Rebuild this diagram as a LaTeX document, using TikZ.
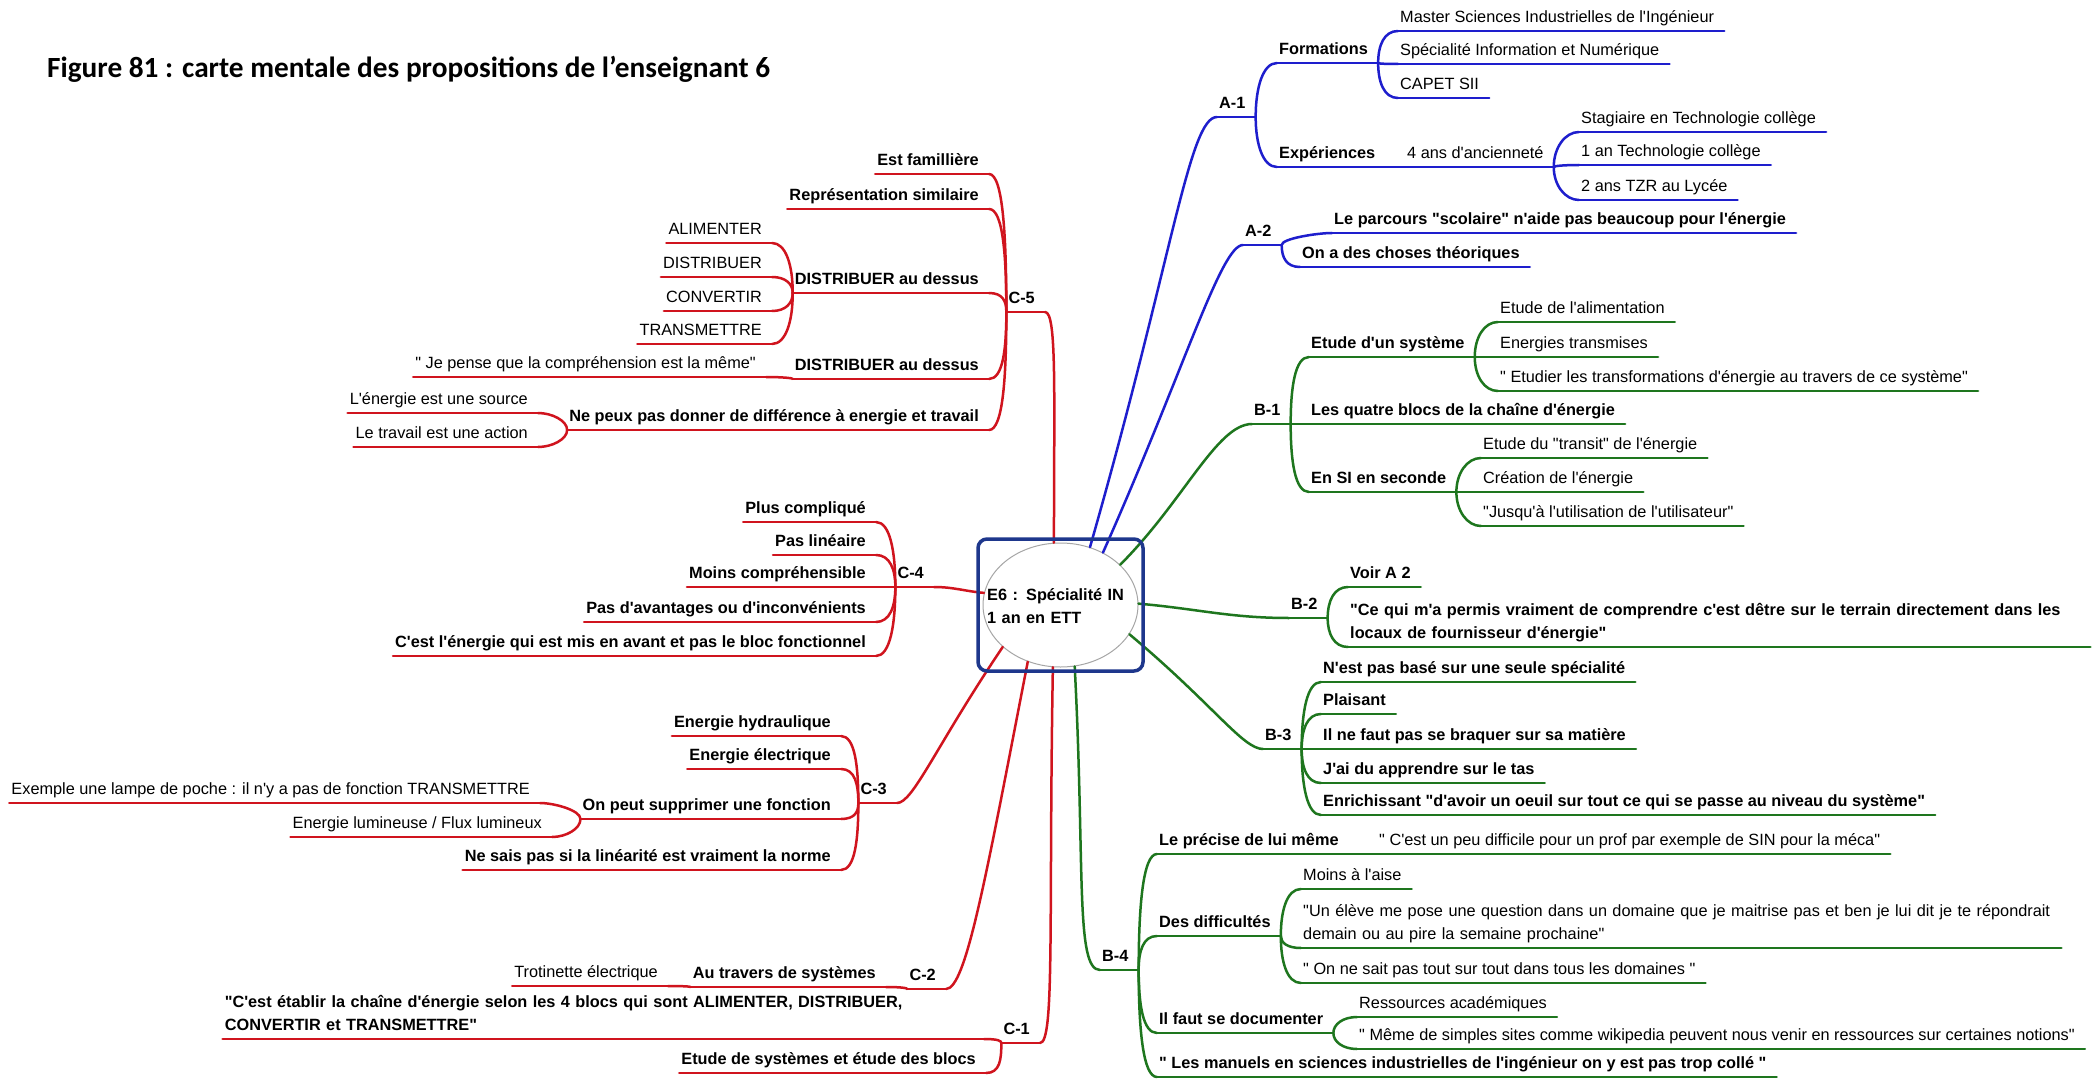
\documentclass[tikz,border=0pt]{standalone}
\usepackage{fontspec}
\setmainfont{Liberation Sans}[Ligatures=TeXOff]
\newfontfamily\titlefont{Carlito}
\usetikzlibrary{shapes.geometric,calc}
\definecolor{brancheA}{RGB}{30,30,205}
\definecolor{brancheB}{RGB}{30,118,30}
\definecolor{brancheC}{RGB}{208,20,30}
\definecolor{cadre}{RGB}{30,55,140}
\newcommand{\carte}{\fontsize{16.3}{23}\selectfont}
\tikzset{
    sujet/.style={
        inner xsep=2pt,
        inner ysep=4.5pt,
        font=\carte,
        execute at end node={\kern8pt\vrule width 0pt depth 3.5pt height 0pt}
    },
    sujetD/.style={sujet, anchor=south west},
    sujetG/.style={sujet, anchor=south east},
    gras/.style={font=\carte\bfseries},
    lien/.style={line width=2.5pt, line cap=round, line join=round},
    lienA/.style={lien, draw=brancheA},
    lienB/.style={lien, draw=brancheB},
    lienC/.style={lien, draw=brancheC},
    forkto/.style={to path={.. controls ($(\tikztostart)!0.55!(\tikztostart|-\tikztotarget)$) and ($(\tikztotarget)+(#1,0)$) .. (\tikztotarget)}},
    forkto/.default=-14
}

\begin{document}
\begin{tikzpicture}[x=1pt, y=1pt]
    \fill[white] (0,0) rectangle (2100,-1083);
    \useasboundingbox (0,0) rectangle (2100,-1083);

    \node[anchor=base west, inner sep=0pt, font={\titlefont\bfseries\fontsize{29.3}{34}\selectfont}] (titre) at (47,-78) {Figure 81 : carte mentale des propositions de l’enseignant 6};

    % centre
    \node[ellipse, draw=gray!70, line width=1pt, fill=white, minimum width=155pt, minimum height=124pt] (e6) at (1060.5,-605) {};
    \node[anchor=base west, inner sep=0pt, text width=150pt, align=left, font=\carte\bfseries] (e6t) at (987,-600) {E6 : Spécialité IN\\1 an en ETT};

    % branche A
    \node[sujetD, gras] (a1) at (1217,-117) {A-1};
    \node[sujetD, gras] (form) at (1277,-63) {Formations};
    \node[sujetD, gras] (exp) at (1277,-167) {Expériences};
    \node[sujetD] (msi) at (1398,-31) {Master Sciences Industrielles de l'Ingénieur};
    \node[sujetD] (sin) at (1398,-64) {Spécialité Information et Numérique};
    \node[sujetD] (capet) at (1398,-98) {CAPET SII};
    \node[sujetD] (anc) at (1405,-167) {4 ans d'ancienneté};
    \node[sujetD] (stag) at (1579,-132) {Stagiaire en Technologie collège};
    \node[sujetD] (tech) at (1579,-165) {1 an Technologie collège};
    \node[sujetD] (tzr) at (1579,-200) {2 ans TZR au Lycée};
    \node[sujetD, gras] (a2) at (1243,-245) {A-2};
    \node[sujetD, gras] (parc) at (1332,-233) {Le parcours "scolaire" n'aide pas beaucoup pour l'énergie};
    \node[sujetD, gras] (theo) at (1300,-267) {On a des choses théoriques};

    % branche B
    \node[sujetD, gras] (b1) at (1252,-424) {B-1};
    \node[sujetD, gras] (sys) at (1309,-357) {Etude d'un système};
    \node[sujetD, gras] (blocs) at (1309,-424) {Les quatre blocs de la chaîne d'énergie};
    \node[sujetD, gras] (sec) at (1309,-492) {En SI en seconde};
    \node[sujetD] (alim) at (1498,-322) {Etude de l'alimentation};
    \node[sujetD] (etr) at (1498,-357) {Energies transmises};
    \node[sujetD] (etud) at (1498,-391) {" Etudier les transformations d'énergie au travers de ce système"};
    \node[sujetD] (trans) at (1481,-458) {Etude du "transit" de l'énergie};
    \node[sujetD] (crea) at (1481,-492) {Création de l'énergie};
    \node[sujetD] (jusq) at (1481,-526) {"Jusqu'à l'utilisation de l'utilisateur"};
    \node[sujetD, gras] (b2) at (1289,-618) {B-2};
    \node[sujetD, gras] (voir) at (1348,-587) {Voir A 2};
    \node[sujetD, gras, text width=738pt, align=left] (terr) at (1348,-647) {"Ce qui m'a permis vraiment de comprendre c'est dêtre sur le terrain directement dans les\\locaux de fournisseur d'énergie"};
    \node[sujetD, gras] (b3) at (1263,-749) {B-3};
    \node[sujetD, gras] (base) at (1321,-682) {N'est pas basé sur une seule spécialité};
    \node[sujetD, gras] (plai) at (1321,-714) {Plaisant};
    \node[sujetD, gras] (braq) at (1321,-749) {Il ne faut pas se braquer sur sa matière};
    \node[sujetD, gras] (tas) at (1321,-783) {J'ai du apprendre sur le tas};
    \node[sujetD, gras] (enri) at (1321,-815) {Enrichissant "d'avoir un oeuil sur tout ce qui se passe au niveau du système"};
    \node[sujetD, gras] (b4) at (1100,-970) {B-4};
    \node[sujetD, gras] (prec) at (1157,-854) {Le précise de lui même};
    \node[sujetD] (meca) at (1377,-854) {" C'est un peu difficile pour un prof par exemple de SIN pour la méca"};
    \node[sujetD, gras] (diff) at (1157,-936) {Des difficultés};
    \node[sujetD] (aise) at (1301,-889) {Moins à l'aise};
    \node[sujetD, text width=756pt, align=left] (eleve) at (1301,-948) {"Un élève me pose une question dans un domaine que je maitrise pas et ben je lui dit je te répondrait\\demain ou au pire la semaine prochaine"};
    \node[sujetD] (sait) at (1301,-983) {" On ne sait pas tout sur tout dans tous les domaines "};
    \node[sujetD, gras] (doc) at (1157,-1033) {Il faut se documenter};
    \node[sujetD] (ress) at (1357,-1017) {Ressources académiques};
    \node[sujetD] (wiki) at (1357,-1049) {" Même de simples sites comme wikipedia peuvent nous venir en ressources sur certaines notions"};
    \node[sujetD, gras] (manu) at (1157,-1077) {" Les manuels en sciences industrielles de l'ingénieur on y est pas trop collé "};

    % branche C
    \node[sujetG, gras] (c5) at (1045,-312) {C-5};
    \node[sujetG, gras] (fam) at (989,-174) {Est famillière};
    \node[sujetG, gras] (rep) at (989,-209) {Représentation similaire};
    \node[sujetG, gras] (dist1) at (989,-293) {DISTRIBUER au dessus};
    \node[sujetG, gras] (dist2) at (989,-379) {DISTRIBUER au dessus};
    \node[sujetG, gras] (diffe) at (989,-430) {Ne peux pas donner de différence à energie et travail};
    \node[sujetG] (alm) at (772,-243) {ALIMENTER};
    \node[sujetG] (dst) at (772,-277) {DISTRIBUER};
    \node[sujetG] (cvt) at (772,-311) {CONVERTIR};
    \node[sujetG] (tsm) at (772,-344) {TRANSMETTRE};
    \node[sujetG] (pense) at (766,-377) {" Je pense que la compréhension est la même"};
    \node[sujetG] (src) at (538,-413) {L'énergie est une source};
    \node[sujetG] (act) at (538,-447) {Le travail est une action};
    \node[sujetG, gras] (c4) at (934,-587) {C-4};
    \node[sujetG, gras] (comp) at (876,-522) {Plus compliqué};
    \node[sujetG, gras] (lin) at (876,-555) {Pas linéaire};
    \node[sujetG, gras] (mcomp) at (876,-587) {Moins compréhensible};
    \node[sujetG, gras] (avan) at (876,-622) {Pas d'avantages ou d'inconvénients};
    \node[sujetG, gras] (bloc) at (876,-656) {C'est l'énergie qui est mis en avant et pas le bloc fonctionnel};
    \node[sujetG, gras] (c3) at (897,-803) {C-3};
    \node[sujetG, gras] (hydr) at (841,-736) {Energie hydraulique};
    \node[sujetG, gras] (elec) at (841,-769) {Energie électrique};
    \node[sujetG, gras] (supp) at (841,-819) {On peut supprimer une fonction};
    \node[sujetG, gras] (norm) at (841,-870) {Ne sais pas si la linéarité est vraiment la norme};
    \node[sujetG] (lamp) at (540,-803) {Exemple une lampe de poche : il n'y a pas de fonction TRANSMETTRE};
    \node[sujetG] (flux) at (552,-837) {Energie lumineuse / Flux lumineux};
    \node[sujetG, gras] (c2) at (946,-989) {C-2};
    \node[sujetG, gras] (trav) at (886,-987) {Au travers de systèmes};
    \node[sujetG] (trot) at (668,-986) {Trotinette électrique};
    \node[sujetG, gras] (c1) at (1040,-1043) {C-1};
    \node[sujetG, gras, text width=757pt, align=left] (chain) at (984,-1039) {"C'est établir la chaîne d'énergie selon les 4 blocs qui sont ALIMENTER, DISTRIBUER,\\CONVERTIR et TRANSMETTRE"};
    \node[sujetG, gras] (etsys) at (986,-1073) {Etude de systèmes et étude des blocs};

    % soulignements
    \foreach \n in {a1,form,exp,msi,sin,capet,anc,stag,tech,tzr,a2,parc,theo}
        \draw[lienA] (\n.south west) -- (\n.south east);
    \foreach \n in {b1,sys,blocs,sec,alim,etr,etud,trans,crea,jusq,b2,voir,terr,b3,base,plai,braq,tas,enri,b4,prec,meca,diff,aise,eleve,sait,doc,ress,wiki,manu}
        \draw[lienB] (\n.south west) -- (\n.south east);
    \foreach \n in {c5,fam,rep,dist1,dist2,diffe,alm,dst,cvt,tsm,pense,src,act,c4,comp,lin,mcomp,avan,bloc,c3,hydr,elec,supp,norm,lamp,flux,c2,trav,trot,c1,chain,etsys}
        \draw[lienC] (\n.south west) -- (\n.south east);

    % fourches
    \foreach \pa/\ch in {a1/form,a1/exp,form/msi,form/sin,form/capet,exp/anc,anc/stag,anc/tech,anc/tzr,a2/parc,a2/theo}
        \draw[lienA] (\pa.south east) to[forkto] (\ch.south west);
    \foreach \pa/\ch in {b1/sys,b1/blocs,b1/sec,sys/alim,sys/etr,sys/etud,sec/trans,sec/crea,sec/jusq,b2/voir,b2/terr,b3/base,b3/plai,b3/braq,b3/tas,b3/enri,b4/prec,b4/diff,b4/doc,b4/manu,prec/meca,diff/aise,diff/eleve,diff/sait,doc/ress,doc/wiki}
        \draw[lienB] (\pa.south east) to[forkto] (\ch.south west);
    \foreach \pa/\ch in {c5/fam,c5/rep,c5/dist1,c5/dist2,c5/diffe,dist1/alm,dist1/dst,dist1/cvt,dist1/tsm,dist2/pense,diffe/src,diffe/act,c4/comp,c4/lin,c4/mcomp,c4/avan,c4/bloc,c3/hydr,c3/elec,c3/supp,c3/norm,supp/lamp,supp/flux,c2/trav,trav/trot,c1/chain,c1/etsys}
        \draw[lienC] (\pa.south west) to[forkto=14] (\ch.south east);

    % liens depuis le centre
    \draw[lienA] (e6.63) to[out=74, in=180, out distance=300pt, in distance=28pt] (a1.south west);
    \draw[lienA] (e6.51) to[out=66, in=180, out distance=200pt, in distance=22pt] (a2.south west);
    \draw[lienB] (e6.34) to[out=45, in=180, out distance=90pt, in distance=35pt] (b1.south west);
    \draw[lienB] (e6.1) to[out=-5, in=180] (b2.south west);
    \draw[lienB] (e6.-23) to[out=-40, in=180, out distance=110pt, in distance=20pt] (b3.south west);
    \draw[lienB] (e6.-77) to[out=-87, in=180, out distance=200pt, in distance=25pt] (b4.south west);
    \draw[lienC] (e6.96) to[out=90, in=0, out distance=150pt, in distance=12pt] (c5.south east);
    \draw[lienC] (e6.171) to[out=175, in=0] (c4.south east);
    \draw[lienC] (e6.-144) to[out=-124, in=0, out distance=120pt, in distance=16pt] (c3.south east);
    \draw[lienC] (e6.-120) to[out=-101, in=0, out distance=220pt, in distance=20pt] (c2.south east);
    \draw[lienC] (e6.-97) to[out=-91, in=0, out distance=250pt, in distance=15pt] (c1.south east);

    \node[draw=cadre, line width=3.5pt, rounded corners=9pt, minimum width=165pt, minimum height=132pt] (cadre6) at (e6.center) {};
\end{tikzpicture}
\end{document}
